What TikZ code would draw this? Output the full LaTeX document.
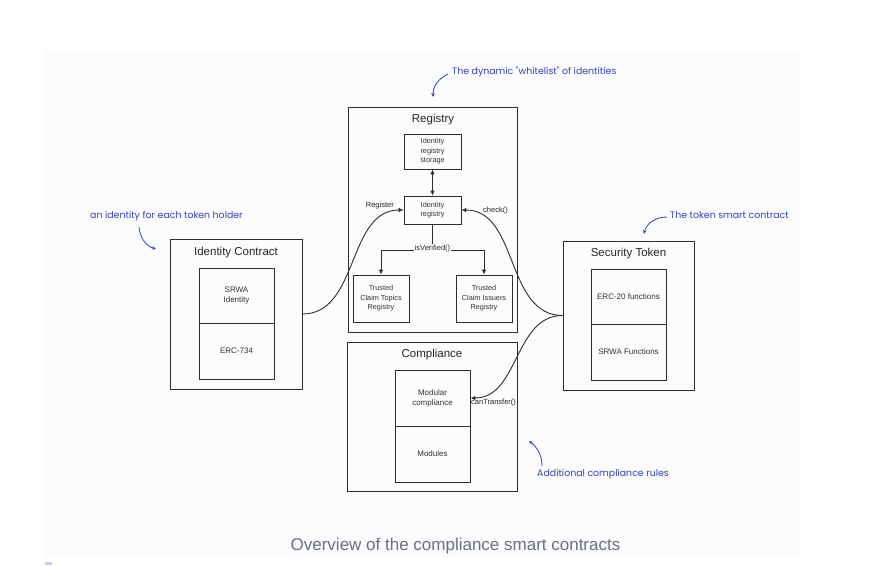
\documentclass[tikz,border=0pt]{standalone}
\usepackage{fontspec}
\setmainfont{Liberation Sans}
\newfontfamily\handfont{Poppins}
\usetikzlibrary{arrows.meta}
\definecolor{bgpanel}{RGB}{252,252,252}
\definecolor{annblue}{RGB}{48,66,190}
\definecolor{capgray}{RGB}{105,112,128}
\definecolor{linegray}{RGB}{45,45,45}
\definecolor{markblue}{RGB}{190,205,240}
\tikzset{
  outerbox/.style={draw=linegray, line width=0.9pt, rectangle, inner sep=0pt},
  innerbox/.style={draw=linegray, line width=0.9pt, rectangle, inner sep=0pt, align=center, font=\fontsize{8}{10}\selectfont, text=black!80},
  smallbox/.style={draw=linegray, line width=0.8pt, rectangle, inner sep=0pt, align=center, font=\fontsize{7.3}{9.6}\selectfont, text=black!80},
  titletext/.style={inner sep=0pt, font=\fontsize{11.5}{13}\selectfont, text=black!85},
  lbl/.style={inner sep=1pt, font=\fontsize{7.5}{9}\selectfont, text=black!85},
  conn/.style={draw=linegray, line width=0.9pt},
  arr/.style={conn, -{Latex[length=5pt,width=4.5pt]}},
  ann/.style={inner sep=0pt, anchor=west, text=annblue, font=\handfont\fontsize{9.4}{11}\selectfont},
  annarr/.style={draw=annblue, line width=0.8pt, -{Stealth[length=4pt,width=3.5pt]}},
}
\begin{document}
\begin{tikzpicture}[x=1pt,y=-1pt]
\useasboundingbox (0,0) rectangle (880,565);
\fill[white] (0,0) rectangle (880,565);
\fill[bgpanel] (45,50) rectangle (800,558);
\fill[markblue] (45,562) rectangle (52,565);

% Registry
\node[outerbox, minimum width=169pt, minimum height=225pt] (reg) at (432.5,219.5) {};
\node[titletext] (regt) at (433,120) {Registry};
\node[smallbox, minimum width=57pt, minimum height=35pt] (stor) at (432.5,151.5) {Identity\\registry\\storage};
\node[smallbox, minimum width=57pt, minimum height=28pt] (idreg) at (432.5,210) {Identity\\registry};
\node[smallbox, minimum width=56pt, minimum height=47pt] (topics) at (381,298.5) {Trusted\\Claim Topics\\Registry};
\node[smallbox, minimum width=56pt, minimum height=47pt] (issuers) at (484,298.5) {Trusted\\Claim Issuers\\Registry};

% Identity contract
\node[outerbox, minimum width=132pt, minimum height=150pt] (ic) at (236,314) {};
\node[titletext] (ict) at (236,253) {Identity Contract};
\node[innerbox, minimum width=75pt, minimum height=55pt] (srwaid) at (236.5,295.5) {SRWA\\Identity};
\node[innerbox, minimum width=75pt, minimum height=56pt] (erc734) at (236.5,351) {ERC-734};

% Security token
\node[outerbox, minimum width=131pt, minimum height=149pt] (st) at (628.5,315.5) {};
\node[titletext] (stt) at (628.5,254) {Security Token};
\node[innerbox, minimum width=75pt, minimum height=55pt] (erc20) at (628.5,296.5) {ERC-20 functions};
\node[innerbox, minimum width=75pt, minimum height=56pt] (srwaf) at (628.5,352) {SRWA Functions};

% Compliance
\node[outerbox, minimum width=170pt, minimum height=149pt] (comp) at (432,416.5) {};
\node[titletext] (compt) at (432,355) {Compliance};
\node[innerbox, minimum width=75pt, minimum height=56pt] (modc) at (432.5,398) {Modular\\compliance};
\node[innerbox, minimum width=75pt, minimum height=56pt] (mods) at (432.5,454) {Modules};

% Registry internal connectors
\draw[conn, {Latex[length=5pt,width=4.5pt]}-{Latex[length=5pt,width=4.5pt]}] (stor) -- (idreg);
\coordinate (vj) at (432.5,250);
\draw[conn] (idreg) -- (vj);
\draw[arr] (vj) -| (topics);
\draw[arr] (vj) -| (issuers);
\node[lbl, fill=white] (isv) at (432.5,248.5) {isVerified()};

% Curved connectors
\draw[arr] (ic.east) to[out=0,in=180] (idreg.west);
\draw[arr] (st.west) to[out=180,in=0] (idreg.east);
\draw[arr] (st.west) to[out=180,in=0] (modc.east);
\node[lbl, anchor=east] (regl) at (395,206) {Register};
\node[lbl, anchor=west] (chk) at (482,211) {check()};
\node[lbl, anchor=west] (cant) at (470,403) {canTransfer()};

% Annotations
\node[ann] (a1) at (452,72) {The dynamic "whitelist" of identities};
\coordinate (a1s) at (448,74); \coordinate (a1e) at (433,97);
\draw[annarr] (a1s) .. controls (438,79) and (433,86) .. (a1e);

\node[ann] (a2) at (90,216) {an identity for each token holder};
\coordinate (a2s) at (139,227); \coordinate (a2e) at (156,249);
\draw[annarr] (a2s) .. controls (140,238) and (146,246) .. (a2e);

\node[ann] (a3) at (670,215) {The token smart contract};
\coordinate (a3s) at (667,217); \coordinate (a3e) at (644,234);
\draw[annarr] (a3s) .. controls (655,217) and (646,224) .. (a3e);

\node[ann] (a4) at (537,474) {Additional compliance rules};
\coordinate (a4s) at (542,466); \coordinate (a4e) at (529,441);
\draw[annarr] (a4s) .. controls (542,455) and (537,447) .. (a4e);

% Caption
\node[inner sep=0pt, text=capgray, font=\fontsize{17}{20}\selectfont] (cap) at (455.5,546) {Overview of the compliance smart contracts};
\end{tikzpicture}
\end{document}
